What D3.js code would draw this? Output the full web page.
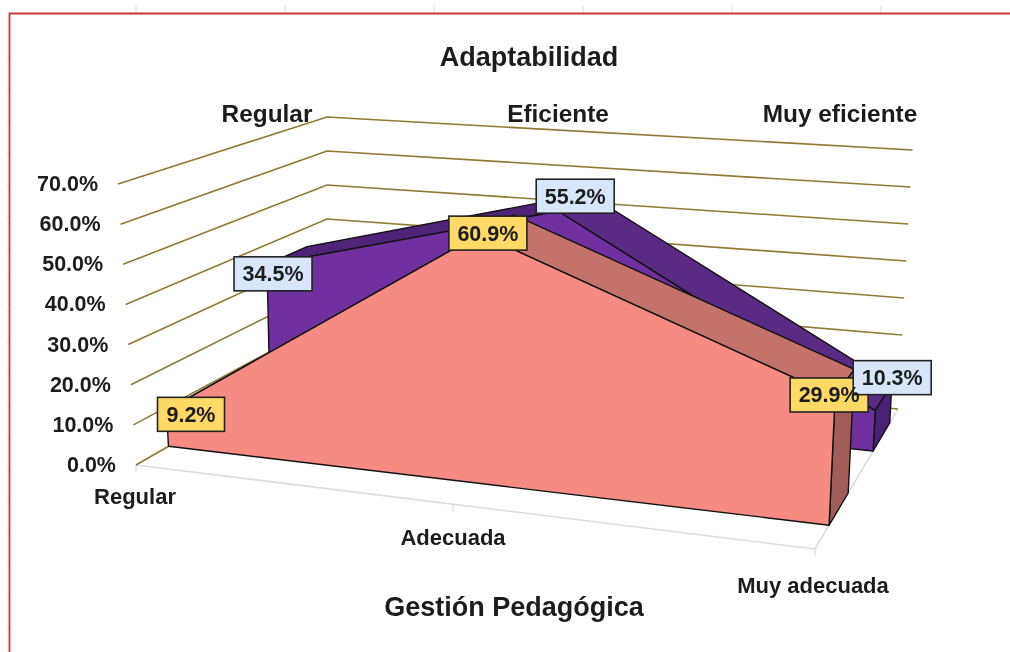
<!DOCTYPE html>
<html><head><meta charset="utf-8">
<style>html,body{margin:0;padding:0;background:#fff}svg{display:block;filter:blur(0.45px)}text{font-family:"Liberation Sans",Arial,sans-serif;font-weight:bold;fill:#1c1c1c}</style>
<script src="https://cdn.jsdelivr.net/npm/d3@7"></script></head><body>
<script>
const categories = ["Regular","Adecuada","Muy adecuada"];
const seriesNames = ["Regular","Eficiente","Muy eficiente"];
const purpleValues = [34.5,55.2,10.3];
const salmonValues = [9.2,60.9,29.9];
const yTicks = [0,10,20,30,40,50,60,70];
const title = "Adaptabilidad", xTitle = "Gestión Pedagógica";

const W=1010,H=652;
const svg=d3.select("body").append("svg").attr("width",W).attr("height",H);

// corners of the 3D box on screen: [front-left, front-right, back-left, back-right]
const floorC=[[136,465],[815,549],[327,355],[898,409]];
const topC=[[118,184],[829,239],[327,117],[912.5,150]];
const uScale=d3.scaleLinear().domain([0,1,2]).range([0,0.473,1]);
const vScale=d3.scaleLinear().domain([0,70]).range([0,1]);
const lerp=(a,b,t)=>a+(b-a)*t;
function proj(u,d,w){
  const f=k=>{
    const a=lerp(lerp(floorC[0][k],floorC[1][k],u),lerp(floorC[2][k],floorC[3][k],u),d);
    const b=lerp(lerp(topC[0][k],topC[1][k],u),lerp(topC[2][k],topC[3][k],u),d);
    return lerp(a,b,w);
  };
  return [f(0),f(1)];
}
const P=(i,d,val)=>proj(uScale(i),d,vScale(val));
const line=d3.line();
const poly=(pts,fill,stroke="#111")=>svg.append("path").attr("d",line(pts)+"Z").attr("fill",fill).attr("stroke",stroke).attr("stroke-width",1.4).attr("stroke-linejoin","round");

// ruler marks and frame
const red="#c9363f";
d3.range(6).forEach(i=>svg.append("line").attr("x1",136+i*149).attr("x2",136+i*149).attr("y1",5).attr("y2",13).attr("stroke","#ddd"));
d3.range(19).forEach(i=>svg.append("line").attr("x1",7).attr("x2",9).attr("y1",58+i*31.7).attr("y2",58+i*31.7).attr("stroke","#ddd"));
svg.append("path").attr("d","M1010,13.5H9.5V652").attr("fill","none").attr("stroke",red).attr("stroke-width",1.8);

// floor
const gray="#dcdcdc";
svg.append("path").attr("d",line([proj(0,0,0),proj(1,0,0),proj(1,1,0)])).attr("fill","none").attr("stroke",gray).attr("stroke-width",1.6);
[0,1,2].forEach(i=>{const p=P(i,0,0);svg.append("line").attr("x1",p[0]-(i===1?4:0)).attr("y1",p[1]).attr("x2",p[0]-(i===1?4:0)).attr("y2",p[1]+7).attr("stroke",gray).attr("stroke-width",1.2)});

// walls
const grid="#8f7a35";
yTicks.forEach(t=>{
  const w=vScale(t);
  svg.append("path").attr("d",line([proj(0,0,w),proj(0,1,w),proj(1,1,w)])).attr("fill","none").attr("stroke",grid).attr("stroke-width",1.6);
});
yTicks.forEach(t=>{
  const p=proj(0,0,vScale(t));
  svg.append("text").attr("x",p[0]-20).attr("y",p[1]+7).attr("text-anchor","end").attr("font-size",21.5).text(d3.format(".1f")(t)+"%");
});

// area ribbons
function ribbon(vals,d0,d1,cFront,cTopL,cTopR,cCap){
  poly([P(0,d0,vals[0]),P(1,d0,vals[1]),P(1,d1,vals[1]),P(0,d1,vals[0])],cTopL);
  poly([P(1,d0,vals[1]),P(2,d0,vals[2]),P(2,d1,vals[2]),P(1,d1,vals[1])],cTopR);
  poly([P(2,d0,0),P(2,d1,0),P(2,d1,vals[2]),P(2,d0,vals[2])],cCap);
  const f=[P(0,d0,0),P(2,d0,0)].concat([P(2,d0,vals[2]),P(1,d0,vals[1]),P(0,d0,vals[0])]);
  poly(f,cFront);
}
ribbon(purpleValues,0.70,0.90,"#7030a0","#4f2378","#5b2a84","#4a2275");
ribbon(salmonValues,0.17,0.40,"#f68b83","#c4736a","#c4736a","#a25d58");

// data labels: all boxes first, then all texts on top
const labH=34;
const labelSets=[
  {vals:salmonValues,d:0.17,fill:"#ffd966",offs:[[24.5,4],[8,-1],[-6,-1.5]],ws:[67,78,78]},
  {vals:purpleValues,d:0.70,fill:"#d8e6fb",offs:[[6,9.5],[17,-15],[17,-33]],ws:[78,78,78]}
];
labelSets.forEach(s=>s.vals.forEach((v,i)=>{
  const p=P(i,s.d,v),cx=p[0]+s.offs[i][0],cy=p[1]+s.offs[i][1],w=s.ws[i];
  svg.append("rect").attr("x",cx-w/2).attr("y",cy-labH/2).attr("width",w).attr("height",labH).attr("fill",s.fill).attr("stroke","#222").attr("stroke-width",1.6);
}));
labelSets.forEach(s=>s.vals.forEach((v,i)=>{
  const p=P(i,s.d,v),cx=p[0]+s.offs[i][0],cy=p[1]+s.offs[i][1];
  svg.append("text").attr("x",cx).attr("y",cy+7.5).attr("text-anchor","middle").attr("font-size",21.5).text(d3.format(".1f")(v)+"%");
}));

// text
const T=(s,x,y,fs)=>svg.append("text").attr("x",x).attr("y",y).attr("text-anchor","middle").attr("font-size",fs).text(s);
T(title,529,66,27);
const serX=[267,558,840];
seriesNames.forEach((s,i)=>T(s,serX[i],122,24.4));
const catPos=[[135,504],[453,545],[813,593]];
categories.forEach((c,i)=>T(c,catPos[i][0],catPos[i][1],22));
T(xTitle,514,616,27);
</script></body></html>
